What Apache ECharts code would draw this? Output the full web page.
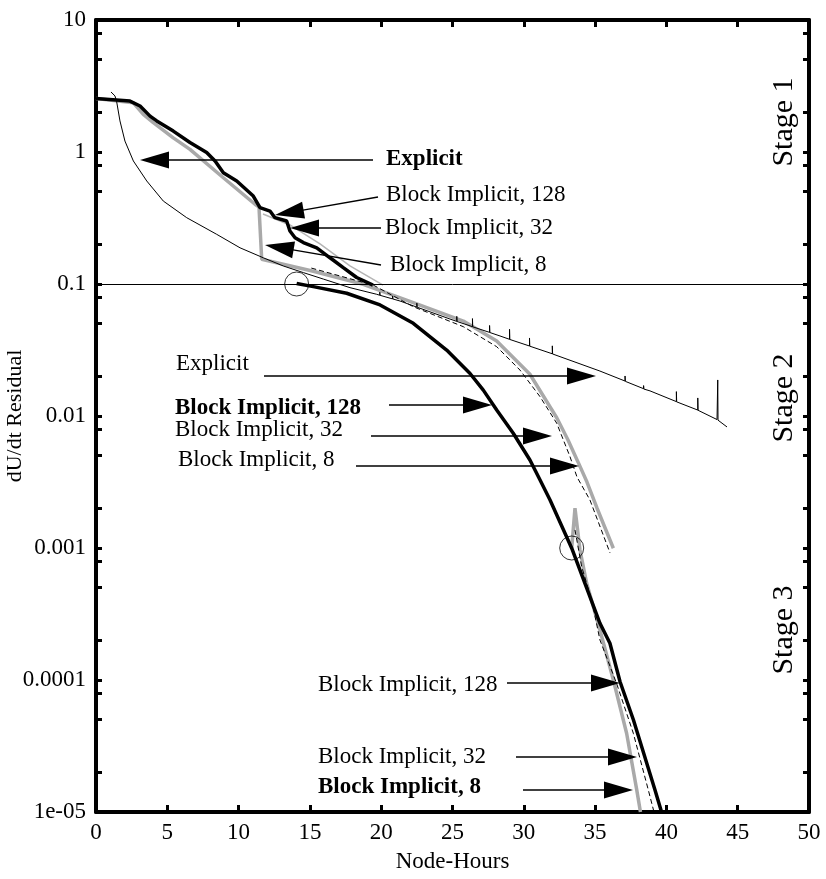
<!DOCTYPE html>
<html><head><meta charset="utf-8">
<script src="https://cdn.jsdelivr.net/npm/echarts@6/dist/echarts.min.js"></script>
<style>html,body{margin:0;padding:0;background:#fff}#c{width:826px;height:879px}</style>
</head><body><div id="c"></div>
<script>
// ---------- data ----------
const explicitX = [1.05,1.33,1.45,1.68,2.03,2.62,3.56,4.72,6.36,8.46,10.1,11.73,13.13,14.54,15.94,17.81,19.68,
  19.9,19.9,19.92, 20.8,20.8,20.82, 21.32, 22.5,22.5,22.52, 24.82, 25.3,25.3,25.32, 26.4,26.4,26.42,
  27.6,27.6,27.62, 28.33, 29.0,29.0,29.02, 30.4,30.4,30.42, 31.84, 32.0,32.0,32.02, 35.34,
  37.1,37.1,37.12, 38.4,38.4,38.42, 38.85, 40.7,40.7,40.72, 42.2,42.2,42.22, 42.36,
  43.55,43.6,43.62, 43.76, 44.25];
const explicitY = [2.85,2.66,2.40,1.72,1.21,0.855,0.603,0.425,0.318,0.238,0.188,0.158,0.137,0.122,0.109,0.0938,0.0836,
  0.0822,0.0867,0.0821, 0.0771,0.0813,0.0770, 0.0743, 0.0668,0.0716,0.0667, 0.0543, 0.0521,0.0569,0.0520, 0.0475,0.0547,0.0474,
  0.0430,0.0485,0.0429, 0.0404, 0.0381,0.0454,0.0380, 0.0339,0.0390,0.0338, 0.0300, 0.0296,0.0340,0.0295, 0.0219,
  0.0184,0.0201,0.0183, 0.0161,0.0170,0.0160, 0.0155, 0.01285,0.0153,0.0128, 0.01109,0.0137,0.01105, 0.0109,
  0.0094,0.01875,0.0093, 0.00917, 0.00826];

// Block Implicit, 8 (grey thick) stages 1-2
const bi8X = [0,2.62,3.32,4.02,5.42,6.59,8.93,11.15,11.43,11.62,15.24,18.74,22.25,25.76,28.1,30.43,32.31,33.1,33.8,34.43,35.13,36.28];
const bi8Y = [2.54,2.36,1.93,1.67,1.28,1.047,0.638,0.402,0.383,0.154,0.125,0.0995,0.0722,0.0524,0.037,0.0207,0.0097,0.00658,0.00449,0.00316,0.00201,0.000996];
// Block Implicit, 8 stage 3
const bi8S3X = [33.36,33.59,33.94,34.41,35.34,36.28,37.21,37.92,38.18];
const bi8S3Y = [0.001,0.0020,0.000966,0.00054,0.000239,0.0001,3.95e-5,1.47e-5,1e-5];

// Block Implicit, 128 (black thick) stage 1
const bi128S1X = [0,2.38,3.09,3.79,4.26,5.42,6.59,7.76,8.35,8.93,9.87,11.03,11.5,12.2,12.55,13.37,13.6,13.96,14.54,15.48,16.41,17.34,18.28,19.42];
const bi128S1Y = [2.54,2.43,2.23,1.87,1.72,1.44,1.18,0.99,0.855,0.697,0.603,0.464,0.379,0.357,0.318,0.300,0.252,0.224,0.206,0.188,0.158,0.133,0.112,0.098];
// Block Implicit, 128 stages 2-3
const bi128X = [14.07,15.24,17.58,19.92,22.25,24.59,26.23,27.16,28.1,29.26,30.43,31.14,31.84,33.36,35.34,36.04,36.75,37.69,39.2,39.66];
const bi128Y = [0.101,0.0955,0.0851,0.0694,0.0504,0.0316,0.0210,0.0157,0.0111,0.0074,0.00464,0.00327,0.00231,0.000996,0.000269,0.00019,9.7e-5,4.98e-5,1.47e-5,1e-5];

// Block Implicit, 32 stage 1 (thin grey)
const bi32S1X = [11.71,13.6,15.71,17.81,20.13];
const bi32S1Y = [0.339,0.28,0.201,0.137,0.098];
// Block Implicit, 32 stage 2 (dashed)
const bi32S2X = [15.1,19.45,22.25,25.76,28.1,29.73,31.14,32.31,33.24,33.73,34.64,36.05];
const bi32S2Y = [0.132,0.098,0.0673,0.0475,0.0335,0.0223,0.0140,0.00881,0.00492,0.00345,0.00231,0.000916];
// Block Implicit, 32 stage 3 (dashed)
const bi32S3X = [33.59,34.06,34.76,35.34,36.51,37.68,38.73,39.13];
const bi32S3Y = [0.00137,0.00072,0.000404,0.000201,9.4e-5,3.95e-5,1.47e-5,1e-5];

// stage switch points (circles) and stage boundary levels
const switchX = [14.07, 33.36];
const switchY = [0.1, 0.001];
const stageLevels = [0.1, 0.001];

// axis ticks
const yLabelValues = [10,1,0.1,0.01,0.001,0.0001,0.00001];
const yLabelTexts  = ['10','1','0.1','0.01','0.001','0.0001','1e-05'];
const yTickValues = [10,8,5,2,1,0.8,0.5,0.2,0.1,0.08,0.05,0.02,0.01,0.008,0.005,0.002,0.001,0.0008,0.0005,0.0002,0.0001,0.00008,0.00005,0.00002,0.00001];

// ---------- chart ----------
const zip = (xs, ys) => xs.map((x, i) => [x, ys[i]]);
const FONT = '"Liberation Serif", "Times New Roman", serif';
const chart = echarts.init(document.getElementById('c'), null, {renderer: 'canvas'});

function arrow(x1, y1, x2, y2) {
  const L = 29, W = 8.5;
  const dx = x2 - x1, dy = y2 - y1, len = Math.hypot(dx, dy);
  const ux = dx / len, uy = dy / len;
  const bx = x2 - ux * L, by = y2 - uy * L;
  return [
    {type: 'line', z: 100, shape: {x1, y1, x2: bx + ux * 2, y2: by + uy * 2}, style: {stroke: '#000', lineWidth: 1.3}},
    {type: 'polygon', z: 100, shape: {points: [[x2, y2], [bx - uy * W, by + ux * W], [bx + uy * W, by - ux * W]]}, style: {fill: '#000'}}
  ];
}
function label(txt, x, y, bold, size, rot) {
  return {type: 'text', z: 100, x, y, rotation: rot || 0,
    style: {text: txt, fill: '#000', font: (bold ? 'bold ' : '') + (size || 23) + 'px ' + FONT,
      align: rot ? 'center' : 'left', verticalAlign: 'middle',
      textAlign: rot ? 'center' : 'left', textVerticalAlign: 'middle'}};
}

const graphics = [
  // stage 1
  label('Explicit', 386, 159, true), ...arrow(373, 160, 140, 160),
  label('Block Implicit, 128', 386, 195), ...arrow(378, 197, 275, 215),
  label('Block Implicit, 32', 385, 228), ...arrow(381, 228, 290, 228),
  label('Block Implicit, 8', 390, 265), ...arrow(381, 265, 265, 245),
  // stage 2
  label('Explicit', 176, 364), ...arrow(264, 376, 596, 376),
  label('Block Implicit, 128', 175, 408, true), ...arrow(389, 405, 492, 405),
  label('Block Implicit, 32', 175, 430), ...arrow(371, 436, 552, 436),
  label('Block Implicit, 8', 178, 460), ...arrow(356, 466, 579, 466),
  // stage 3
  label('Block Implicit, 128', 318, 685), ...arrow(507, 683, 620, 683),
  label('Block Implicit, 32', 318, 757), ...arrow(516, 757, 637, 757),
  label('Block Implicit, 8', 318, 787, true), ...arrow(523, 790, 633, 790),
  // stage names
  label('Stage 1', 784, 122, false, 30, Math.PI / 2),
  label('Stage 2', 784, 398, false, 30, Math.PI / 2),
  label('Stage 3', 784, 630, false, 30, Math.PI / 2)
];

const axisLineStyle = {color: '#000', width: 4};
const tickStyle = {color: '#000', width: 3};
const labelStyle = {color: '#000', fontFamily: FONT, fontSize: 23};

const option = {
  animation: false,
  backgroundColor: '#fff',
  grid: {left: 96, right: 17, top: 20, bottom: 67, containLabel: false, outerBoundsMode: 'none'},
  xAxis: [
    {type: 'value', position: 'bottom', min: 0, max: 50, interval: 5,
     axisLine: {show: true, onZero: false, lineStyle: axisLineStyle},
     axisTick: {show: true, inside: true, length: 7, lineStyle: tickStyle},
     axisLabel: Object.assign({margin: 9}, labelStyle),
     splitLine: {show: false},
     name: 'Node-Hours', nameLocation: 'middle', nameGap: 38, nameMoveOverlap: false, nameTextStyle: labelStyle},
    {type: 'value', position: 'top', min: 0, max: 50, interval: 5,
     axisLine: {show: true, onZero: false, lineStyle: axisLineStyle},
     axisTick: {show: true, inside: true, length: 7, lineStyle: tickStyle},
     axisLabel: {show: false}, splitLine: {show: false}}
  ],
  yAxis: [
    {type: 'log', logBase: 10, position: 'left', min: 1e-5, max: 10,
     axisLine: {show: true, onZero: false, lineStyle: axisLineStyle},
     axisTick: {show: true, inside: true, length: 6, lineStyle: tickStyle, customValues: yTickValues},
     axisLabel: Object.assign({margin: 10, customValues: yLabelValues,
       formatter: v => { for (let i = 0; i < yLabelValues.length; i++) { if (Math.abs(Math.log10(v) - Math.log10(yLabelValues[i])) < 0.01) return yLabelTexts[i]; } return ''; }
     }, labelStyle),
     splitLine: {show: false}, minorTick: {show: false},
     name: 'dU/dt Residual', nameLocation: 'middle', nameGap: 70, nameMoveOverlap: false,
     nameTextStyle: {color: '#000', fontFamily: FONT, fontSize: 22}},
    {type: 'log', logBase: 10, position: 'right', min: 1e-5, max: 10,
     axisLine: {show: true, onZero: false, lineStyle: axisLineStyle},
     axisTick: {show: true, inside: true, length: 6, lineStyle: tickStyle, customValues: yTickValues},
     axisLabel: {show: false}, splitLine: {show: false}}
  ],
  series: [
    {name: 'Block Implicit, 8', type: 'line', data: zip(bi8X, bi8Y), showSymbol: false, symbol: 'none',
     lineStyle: {color: '#a9a9a9', width: 3.5}, z: 2,
     markLine: {silent: true, symbol: ['none', 'none'], label: {show: false},
       lineStyle: {color: '#000', width: 1, type: 'solid'},
       data: stageLevels.map(v => ({yAxis: v}))}},
    {name: 'Block Implicit, 8 (stage 3)', type: 'line', data: zip(bi8S3X, bi8S3Y), symbol: 'none',
     lineStyle: {color: '#a9a9a9', width: 3.5}, z: 2},
    {name: 'Block Implicit, 32 (stage 1)', type: 'line', data: zip(bi32S1X, bi32S1Y), symbol: 'none',
     lineStyle: {color: '#b5b5b5', width: 1.5}, z: 2},
    {name: 'Block Implicit, 128 (stage 1)', type: 'line', data: zip(bi128S1X, bi128S1Y), symbol: 'none',
     lineStyle: {color: '#000', width: 3.5}, z: 3},
    {name: 'Block Implicit, 128', type: 'line', data: zip(bi128X, bi128Y), symbol: 'none',
     lineStyle: {color: '#000', width: 3.5}, z: 3},
    {name: 'Block Implicit, 32', type: 'line', data: zip(bi32S2X, bi32S2Y), symbol: 'none',
     lineStyle: {color: '#000', width: 1, type: [5, 3]}, z: 4},
    {name: 'Block Implicit, 32 (stage 3)', type: 'line', data: zip(bi32S3X, bi32S3Y), symbol: 'none',
     lineStyle: {color: '#000', width: 1, type: [5, 3]}, z: 4},
    {name: 'Explicit', type: 'line', data: zip(explicitX, explicitY), symbol: 'none',
     lineStyle: {color: '#000', width: 1}, z: 4},
    {name: 'Stage switch', type: 'scatter', data: zip(switchX, switchY), symbol: 'circle', symbolSize: 24,
     itemStyle: {color: 'rgba(0,0,0,0)', borderColor: '#000', borderWidth: 1}, z: 5}
  ],
  graphic: graphics
};
chart.setOption(option);
</script>
</body></html>
